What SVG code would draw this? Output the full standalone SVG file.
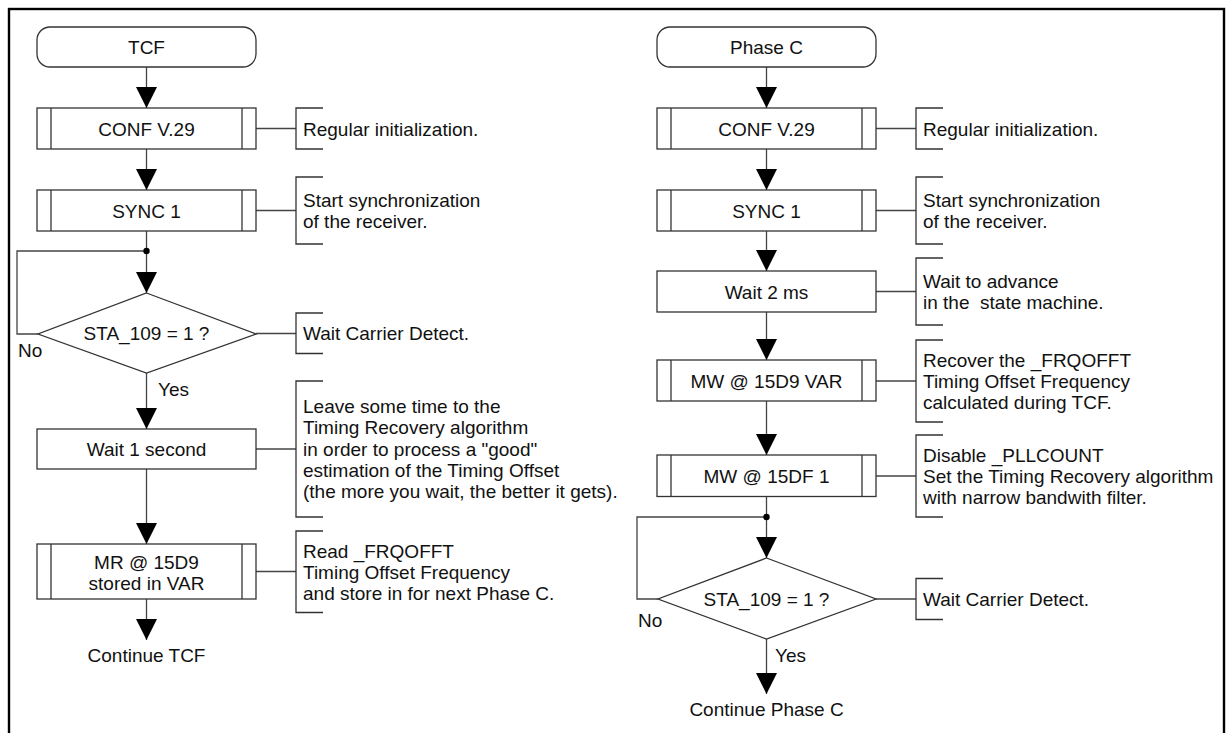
<svg xmlns="http://www.w3.org/2000/svg" width="1231" height="733" viewBox="0 0 1231 733">
<style>
text{font-family:"Liberation Sans",Arial,sans-serif;font-size:19px;fill:#111}
.c{text-anchor:middle}
.box{fill:#fff;stroke:#333;stroke-width:1.3}
.ln{fill:none;stroke:#444;stroke-width:1.3}
.arr{fill:none;stroke:#444;stroke-width:1.3;marker-end:url(#ah)}
.br{fill:none;stroke:#333;stroke-width:1.3}
</style>
<defs>
<marker id="ah" markerUnits="userSpaceOnUse" markerWidth="22" markerHeight="22" refX="21" refY="10.5" orient="auto">
<path d="M0,0 L21,10.5 L0,21 Z" fill="#000"/>
</marker>
</defs>
<rect x="9" y="9" width="1215" height="800" fill="none" stroke="#000" stroke-width="2.4"/>

<g id="connectors">
<!-- left column -->
<line class="arr" x1="146.5" y1="67" x2="146.5" y2="108"/>
<line class="arr" x1="146.5" y1="149" x2="146.5" y2="190"/>
<line class="ln" x1="146.5" y1="231" x2="146.5" y2="251"/>
<line class="arr" x1="146.5" y1="251" x2="146.5" y2="293"/>
<polyline class="ln" points="146.5,251 17,251 17,334 38,334"/>
<circle cx="146.5" cy="251" r="3.2" fill="#000"/>
<line class="arr" x1="146.5" y1="373" x2="146.5" y2="429"/>
<line class="arr" x1="146.5" y1="469" x2="146.5" y2="544"/>
<line class="arr" x1="146.5" y1="599" x2="146.5" y2="640"/>
<line class="ln" x1="256" y1="128.5" x2="296" y2="128.5"/>
<line class="ln" x1="256" y1="210.5" x2="296" y2="210.5"/>
<line class="ln" x1="256" y1="333.5" x2="296" y2="333.5"/>
<line class="ln" x1="256" y1="449" x2="296" y2="449"/>
<line class="ln" x1="256" y1="571.5" x2="296" y2="571.5"/>
<!-- right column -->
<line class="arr" x1="766.5" y1="67" x2="766.5" y2="108"/>
<line class="arr" x1="766.5" y1="149" x2="766.5" y2="190"/>
<line class="arr" x1="766.5" y1="231" x2="766.5" y2="271"/>
<line class="arr" x1="766.5" y1="312" x2="766.5" y2="360"/>
<line class="arr" x1="766.5" y1="401" x2="766.5" y2="455"/>
<line class="ln" x1="766.5" y1="496.5" x2="766.5" y2="517"/>
<line class="arr" x1="766.5" y1="517" x2="766.5" y2="558"/>
<polyline class="ln" points="766.5,517 637,517 637,599 658,599"/>
<circle cx="766.5" cy="517" r="3.2" fill="#000"/>
<line class="arr" x1="766.5" y1="639" x2="766.5" y2="694"/>
<line class="ln" x1="876" y1="128.5" x2="916" y2="128.5"/>
<line class="ln" x1="876" y1="210.5" x2="916" y2="210.5"/>
<line class="ln" x1="876" y1="291.5" x2="916" y2="291.5"/>
<line class="ln" x1="876" y1="381" x2="916" y2="381"/>
<line class="ln" x1="876" y1="476" x2="916" y2="476"/>
<line class="ln" x1="876" y1="599" x2="916" y2="599"/>
</g>

<!-- left column nodes -->
<g id="tcf">
<rect class="box" x="37" y="27" width="219" height="40" rx="13"/>
<text class="c" x="146.5" y="54">TCF</text>
</g>
<g id="conf-left">
<rect class="box" x="37" y="108" width="219" height="41"/>
<line class="box" x1="51" y1="108" x2="51" y2="149"/>
<line class="box" x1="242" y1="108" x2="242" y2="149"/>
<text class="c" x="146.5" y="135.5">CONF V.29</text>
</g>
<g id="note-conf-left">
<polyline class="br" points="323,108 296,108 296,149 323,149"/>
<text x="303" y="135.5">Regular initialization.</text>
</g>
<g id="sync-left">
<rect class="box" x="37" y="190" width="219" height="41"/>
<line class="box" x1="51" y1="190" x2="51" y2="231"/>
<line class="box" x1="242" y1="190" x2="242" y2="231"/>
<text class="c" x="146.5" y="217.5">SYNC 1</text>
</g>
<g id="note-sync-left">
<polyline class="br" points="323,177 296,177 296,244 323,244"/>
<text x="303" y="207">Start synchronization</text>
<text x="303" y="228">of the receiver.</text>
</g>
<g id="sta-left">
<polygon class="box" points="146.5,293 256,334 146.5,373 38,334"/>
<text class="c" x="146.5" y="340">STA_109 = 1 ?</text>
<text x="18" y="357">No</text>
<text x="158" y="396">Yes</text>
</g>
<g id="note-sta-left">
<polyline class="br" points="323,313 296,313 296,353.5 323,353.5"/>
<text x="303" y="340">Wait Carrier Detect.</text>
</g>
<g id="wait1">
<rect class="box" x="37" y="429" width="219" height="40"/>
<text class="c" x="146.5" y="456">Wait 1 second</text>
</g>
<g id="note-wait1">
<polyline class="br" points="323,381 296,381 296,517 323,517"/>
<text x="303" y="413">Leave some time to the</text>
<text x="303" y="434.3">Timing Recovery algorithm</text>
<text x="303" y="455.6">in order to process a "good"</text>
<text x="303" y="476.9">estimation of the Timing Offset</text>
<text x="303" y="498.2">(the more you wait, the better it gets).</text>
</g>
<g id="mr">
<rect class="box" x="37" y="544" width="219" height="55"/>
<line class="box" x1="51" y1="544" x2="51" y2="599"/>
<line class="box" x1="242" y1="544" x2="242" y2="599"/>
<text class="c" x="146.5" y="569">MR @ 15D9</text>
<text class="c" x="146.5" y="590">stored in VAR</text>
</g>
<g id="note-mr">
<polyline class="br" points="323,531 296,531 296,612.5 323,612.5"/>
<text x="303" y="557.5">Read _FRQOFFT</text>
<text x="303" y="578.8">Timing Offset Frequency</text>
<text x="303" y="600">and store in for next Phase C.</text>
</g>
<g id="continue-tcf">
<text class="c" x="146.5" y="662">Continue TCF</text>
</g>

<!-- right column nodes -->
<g id="phasec">
<rect class="box" x="657" y="27" width="219" height="40" rx="13"/>
<text class="c" x="766.5" y="54">Phase C</text>
</g>
<g id="conf-right">
<rect class="box" x="657" y="108" width="219" height="41"/>
<line class="box" x1="671" y1="108" x2="671" y2="149"/>
<line class="box" x1="862" y1="108" x2="862" y2="149"/>
<text class="c" x="766.5" y="135.5">CONF V.29</text>
</g>
<g id="note-conf-right">
<polyline class="br" points="943,108 916,108 916,149 943,149"/>
<text x="923" y="135.5">Regular initialization.</text>
</g>
<g id="sync-right">
<rect class="box" x="657" y="190" width="219" height="41"/>
<line class="box" x1="671" y1="190" x2="671" y2="231"/>
<line class="box" x1="862" y1="190" x2="862" y2="231"/>
<text class="c" x="766.5" y="217.5">SYNC 1</text>
</g>
<g id="note-sync-right">
<polyline class="br" points="943,177 916,177 916,244 943,244"/>
<text x="923" y="207">Start synchronization</text>
<text x="923" y="228">of the receiver.</text>
</g>
<g id="wait2">
<rect class="box" x="657" y="271" width="219" height="41"/>
<text class="c" x="766.5" y="298.5">Wait 2 ms</text>
</g>
<g id="note-wait2">
<polyline class="br" points="943,258 916,258 916,325 943,325"/>
<text x="923" y="288">Wait to advance</text>
<text x="923" y="309" xml:space="preserve">in the  state machine.</text>
</g>
<g id="mw-var">
<rect class="box" x="657" y="360" width="219" height="41"/>
<line class="box" x1="671" y1="360" x2="671" y2="401"/>
<line class="box" x1="862" y1="360" x2="862" y2="401"/>
<text class="c" x="766.5" y="387.5">MW @ 15D9 VAR</text>
</g>
<g id="note-mw-var">
<polyline class="br" points="943,340 916,340 916,422 943,422"/>
<text x="923" y="366.5">Recover the _FRQOFFT</text>
<text x="923" y="387.8">Timing Offset Frequency</text>
<text x="923" y="409">calculated during TCF.</text>
</g>
<g id="mw-15df">
<rect class="box" x="657" y="455" width="219" height="41.5"/>
<line class="box" x1="671" y1="455" x2="671" y2="496.5"/>
<line class="box" x1="862" y1="455" x2="862" y2="496.5"/>
<text class="c" x="766.5" y="483">MW @ 15DF 1</text>
</g>
<g id="note-mw-15df">
<polyline class="br" points="943,435 916,435 916,517 943,517"/>
<text x="923" y="461.5">Disable _PLLCOUNT</text>
<text x="923" y="482.8">Set the Timing Recovery algorithm</text>
<text x="923" y="504">with narrow bandwith filter.</text>
</g>
<g id="sta-right">
<polygon class="box" points="766.5,558 876,599 766.5,639 658,599"/>
<text class="c" x="766.5" y="605.5">STA_109 = 1 ?</text>
<text x="638" y="627">No</text>
<text x="775" y="662">Yes</text>
</g>
<g id="note-sta-right">
<polyline class="br" points="943,578.5 916,578.5 916,619.5 943,619.5"/>
<text x="923" y="605.5">Wait Carrier Detect.</text>
</g>
<g id="continue-phasec">
<text class="c" x="766.5" y="716">Continue Phase C</text>
</g>
</svg>
